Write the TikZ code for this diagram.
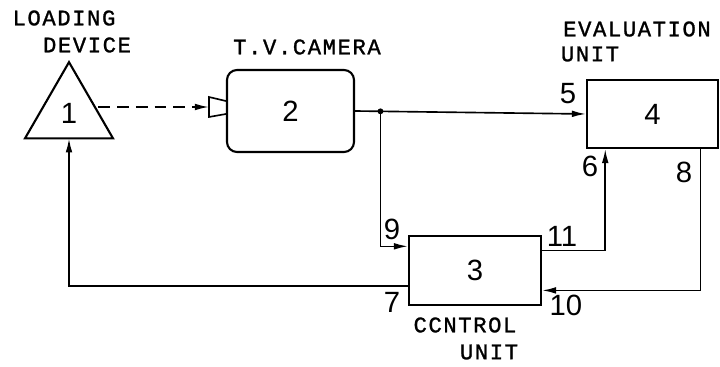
\documentclass[tikz,border=0pt]{standalone}
\usepackage{fontspec}
\setmainfont{Liberation Sans}
\newfontfamily\letterfont[LetterSpace=7,FakeBold=1.2]{Liberation Mono}
\usetikzlibrary{shapes.geometric,arrows.meta,calc}

\tikzset{
  blk/.style={draw, line width=1.8pt, inner sep=0pt},
  dev/.style={draw, line width=1.8pt, regular polygon, regular polygon sides=3,
              minimum size=3.05cm, inner sep=0pt, outer sep=0pt},
  lbl/.style={font=\letterfont\fontsize{19}{19}\selectfont, inner sep=0pt},
  num/.style={inner sep=0pt}
}

\begin{document}
\begin{tikzpicture}[x=0.03cm, y=-0.03cm, >={Latex[length=4.2mm,width=2mm]},
    line width=1.4pt, font=\fontsize{25}{25}\selectfont]
    \path[use as bounding box] (0,0) rectangle (720,367);

    % blocks
    \node[dev] (dev) at (69,113) {1};
    \node[blk, rounded corners=0.3cm, minimum width=3.81cm, minimum height=2.46cm] (cam) at (290.5,111) {2};
    \node[blk, minimum width=3.93cm, minimum height=2.04cm] (eval) at (652.5,114) {4};
    \node[blk, minimum width=3.96cm, minimum height=2.07cm] (ctrl) at (475,270.5) {3};

    % camera lens
    \draw ($(cam.west)+(0,-10)$) -- ++(-17,-4) -- ++(0,20) -- ($(cam.west)+(0,3)$);
    \coordinate (lens) at ($(cam.west)+(-17,-4)$);

    % ports
    \coordinate (jn)    at ($(cam.east)!0.11!(eval.west)$);
    \coordinate (in9)   at ($(ctrl.north west)!0.16!(ctrl.south west)$);
    \coordinate (out7)  at ($(ctrl.north west)!0.72!(ctrl.south west)$);
    \coordinate (out11) at ($(ctrl.north east)!0.22!(ctrl.south east)$);
    \coordinate (in10)  at ($(ctrl.north east)!0.78!(ctrl.south east)$);
    \coordinate (in6)   at ($(eval.south west)!0.145!(eval.south east)$);
    \coordinate (out8)  at ($(eval.south west)!0.86!(eval.south east)$);

    \draw[->, dash pattern=on 10pt off 6pt] (dev.east |- lens) -- (lens);
    \draw[->] (cam.east) -- (eval.west);
    \fill (jn) circle (2.5pt);
    \draw[->] (jn) |- (in9);
    \draw[->] (out11) -| (in6);
    \draw[->] (out8) |- (in10);
    \draw[->] (out7) -| (dev.south);

    % port numbers
    \node[num] (n5)  at (568,94)  {5};
    \node[num] (n6)  at (590,166) {6};
    \node[num] (n8)  at (684,172) {8};
    \node[num] (n9)  at (392,229) {9};
    \node[num] (n11) at (562,236) {11};
    \node[num] (n7)  at (392,302) {7};
    \node[num] (n10) at (566,305) {10};

    % names
    \node[lbl] (ldtop)  at (64,18)   {LOADING};
    \node[lbl] (ldbot)  at (87,45)   {DEVICE};
    \node[lbl] (camlbl) at (307,47)  {T.V.CAMERA};
    \node[lbl] (evtop)  at (637,29)  {EVALUATION};
    \node[lbl] (evbot)  at (590,54)  {UNIT};
    \node[lbl] (cttop)  at (465,325) {CCNTROL};
    \node[lbl] (ctbot)  at (489,352) {UNIT};
\end{tikzpicture}
\end{document}
